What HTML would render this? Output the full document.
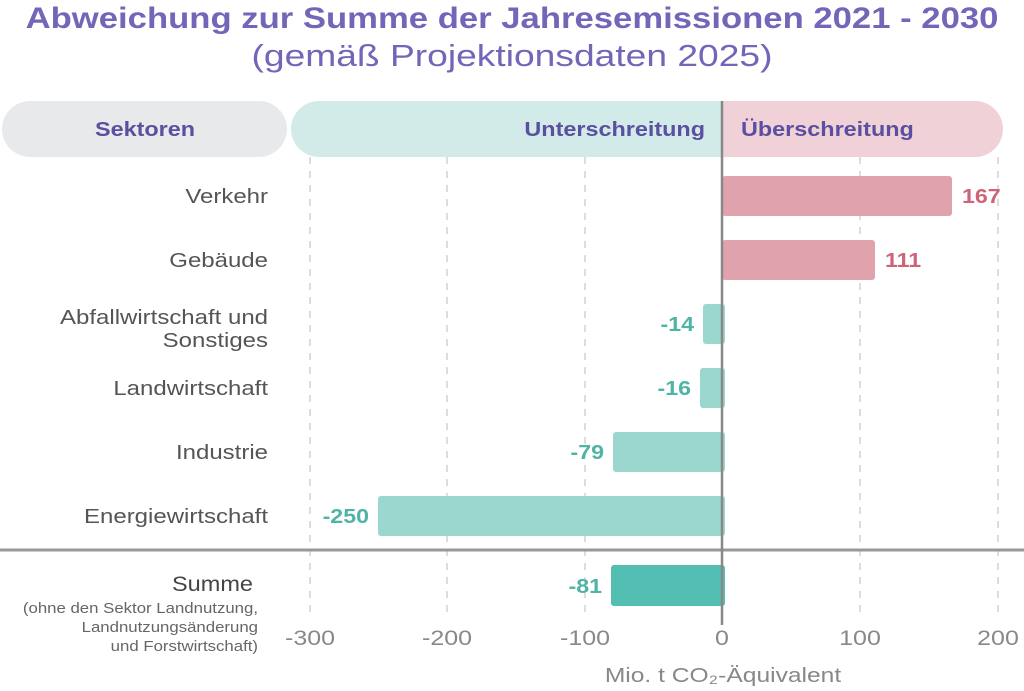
<!DOCTYPE html>
<html><head><meta charset="utf-8"><style>
html,body{margin:0;padding:0;background:#fff;width:1024px;height:691px;overflow:hidden}
svg{display:block;font-family:"Liberation Sans",sans-serif}
</style></head><body>
<svg width="1024" height="691" viewBox="0 0 1024 691" xmlns="http://www.w3.org/2000/svg">
<text transform="translate(512,28) scale(1.156,1)" text-anchor="middle" font-size="30" font-weight="bold" fill="#7266b8">Abweichung zur Summe der Jahresemissionen 2021 - 2030</text>
<text transform="translate(512,66) scale(1.2,1)" text-anchor="middle" font-size="31" fill="#7266b8">(gemäß Projektionsdaten 2025)</text>
<rect x="2" y="101" width="285" height="56" rx="28" fill="#e8e9eb"/>
<path d="M319 101 H722 V157 H319 A28 28 0 0 1 319 101 Z" fill="#d3ebe8"/>
<path d="M722 101 H975 A28 28 0 0 1 975 157 H722 Z" fill="#f1d1d8"/>
<g font-size="20" font-weight="bold" fill="#5a4fa0">
<text transform="translate(95,136) scale(1.17,1)">Sektoren</text>
<text transform="translate(705,136) scale(1.17,1)" text-anchor="end">Unterschreitung</text>
<text transform="translate(741,136) scale(1.17,1)">Überschreitung</text>
</g>
<g stroke="#bbb" stroke-width="1" stroke-dasharray="7,7">
<line x1="310" y1="157" x2="310" y2="618"/>
<line x1="447" y1="157" x2="447" y2="618"/>
<line x1="585" y1="157" x2="585" y2="618"/>
<line x1="860" y1="157" x2="860" y2="618"/>
<line x1="998" y1="157" x2="998" y2="618"/>
</g>
<rect x="722" y="176" width="230" height="40" rx="3" fill="#e0a3ae"/>
<rect x="722" y="240" width="153" height="40" rx="3" fill="#e0a3ae"/>
<rect x="703" y="304" width="22" height="40" rx="3" fill="#9cd7cf"/>
<rect x="700" y="368" width="25" height="40" rx="3" fill="#9cd7cf"/>
<rect x="613" y="432" width="112" height="40" rx="3" fill="#9cd7cf"/>
<rect x="378" y="496" width="347" height="40" rx="3" fill="#9cd7cf"/>
<rect x="611" y="565" width="114" height="41" rx="3" fill="#52bfb2"/>
<line x1="0" y1="550" x2="1024" y2="550" stroke="#999" stroke-width="3"/>
<line x1="722" y1="101" x2="722" y2="625" stroke="#888" stroke-width="2.5"/>
<g font-size="20" font-weight="bold">
<text transform="translate(962,203) scale(1.16,1)" fill="#cc6577">167</text>
<text transform="translate(885,267) scale(1.16,1)" fill="#cc6577">111</text>
<g fill="#4fb3a6" text-anchor="end">
<text transform="translate(694,331) scale(1.16,1)">-14</text>
<text transform="translate(691,395) scale(1.16,1)">-16</text>
<text transform="translate(604,459) scale(1.16,1)">-79</text>
<text transform="translate(369,523) scale(1.16,1)">-250</text>
<text transform="translate(602,593) scale(1.16,1)">-81</text>
</g>
</g>
<g font-size="20" fill="#555" text-anchor="end">
<text transform="translate(268,203) scale(1.2,1)">Verkehr</text>
<text transform="translate(268,267) scale(1.2,1)">Gebäude</text>
<text transform="translate(268,324) scale(1.2,1)">Abfallwirtschaft und</text>
<text transform="translate(268,347) scale(1.2,1)">Sonstiges</text>
<text transform="translate(268,395) scale(1.2,1)">Landwirtschaft</text>
<text transform="translate(268,459) scale(1.2,1)">Industrie</text>
<text transform="translate(268,523) scale(1.2,1)">Energiewirtschaft</text>
<text transform="translate(253,591) scale(1.12,1)" font-size="21" fill="#444">Summe</text>
<g font-size="15" fill="#666">
<text transform="translate(258,613) scale(1.12,1)">(ohne den Sektor Landnutzung,</text>
<text transform="translate(258,632) scale(1.12,1)">Landnutzungsänderung</text>
<text transform="translate(258,651) scale(1.12,1)">und Forstwirtschaft)</text>
</g>
</g>
<g font-size="21" fill="#888" text-anchor="middle">
<text transform="translate(310,645) scale(1.19,1)">-300</text>
<text transform="translate(447,645) scale(1.19,1)">-200</text>
<text transform="translate(585,645) scale(1.19,1)">-100</text>
<text transform="translate(722,645) scale(1.19,1)">0</text>
<text transform="translate(860,645) scale(1.19,1)">100</text>
<text transform="translate(998,645) scale(1.19,1)">200</text>
</g>
<text transform="translate(723,682) scale(1.23,1)" text-anchor="middle" font-size="20" fill="#888">Mio. t CO₂-Äquivalent</text>
</svg>
</body></html>
